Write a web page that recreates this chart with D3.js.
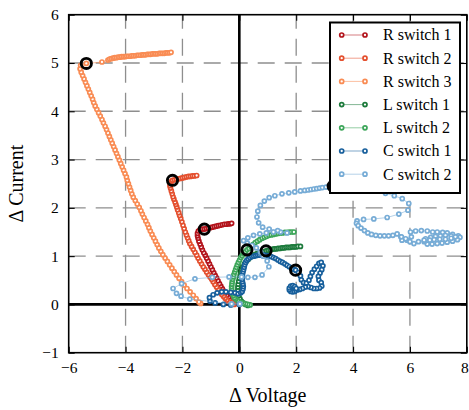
<!DOCTYPE html>
<html>
<head>
<meta charset="utf-8">
<script src="https://cdn.jsdelivr.net/npm/d3@7"></script>
<style>
  body { margin: 0; background: #fff; }
  text { font-family: "Liberation Serif", "Times New Roman", serif; fill: #000; }
</style>
</head>
<body>
<svg id="chart" width="469" height="410"></svg>
<script>
// ---- data: (ΔV, ΔI) trajectories after each switching event ----
const seriesNames = ["R switch 1", "R switch 2", "R switch 3", "L switch 1", "L switch 2", "C switch 1", "C switch 2"];
const xTicks = [-6, -4, -2, 0, 2, 4, 6, 8];
const yTicks = [-1, 0, 1, 2, 3, 4, 5, 6];

const rSwitch1 = [
  [-0.08,0.02],[-0.14,0.04],[-0.2,0.06],[-0.26,0.08],[-0.32,0.11],[-0.38,0.15],[-0.44,0.19],[-0.5,0.23],
  [-0.55,0.28],[-0.6,0.33],[-0.65,0.38],[-0.7,0.43],[-0.75,0.49],[-0.8,0.55],[-0.85,0.6],[-0.9,0.66],
  [-0.95,0.72],[-1.0,0.78],[-1.05,0.84],[-1.1,0.9],[-1.15,0.96],[-1.2,1.02],[-1.25,1.07],[-1.3,1.13],
  [-1.34,1.19],[-1.38,1.25],[-1.42,1.31],[-1.45,1.37],[-1.47,1.42],[-1.47,1.47],[-1.44,1.52],[-1.38,1.55],
  [-1.3,1.56],[-1.23,1.56],[-1.16,1.57],[-1.09,1.58],[-1.02,1.59],[-0.95,1.6],[-0.88,1.61],[-0.81,1.62],
  [-0.74,1.63],[-0.67,1.64],[-0.6,1.65],[-0.53,1.66],[-0.46,1.66],[-0.39,1.67],[-0.33,1.67],[-0.27,1.68]
];
const rSwitch2 = [
  [-0.18,0.0],[-0.25,0.02],[-0.32,0.04],[-0.38,0.06],[-0.44,0.09],[-0.5,0.13],[-0.56,0.17],[-0.62,0.21],
  [-0.68,0.26],[-0.74,0.31],[-0.8,0.36],[-0.86,0.41],[-0.92,0.47],[-0.97,0.52],[-1.03,0.57],[-1.09,0.62],
  [-1.15,0.67],[-1.21,0.73],[-1.27,0.78],[-1.33,0.84],[-1.39,0.9],[-1.45,0.96],[-1.5,1.02],[-1.56,1.08],
  [-1.62,1.14],[-1.68,1.2],[-1.74,1.26],[-1.78,1.32],[-1.82,1.38],[-1.86,1.44],[-1.9,1.5],[-1.94,1.57],
  [-1.98,1.64],[-2.02,1.71],[-2.06,1.78],[-2.1,1.84],[-2.13,1.9],[-2.17,1.96],[-2.2,2.02],[-2.23,2.07],
  [-2.26,2.12],[-2.3,2.18],[-2.33,2.23],[-2.36,2.29],[-2.39,2.35],[-2.42,2.41],[-2.44,2.46],[-2.42,2.51],
  [-2.38,2.55],[-2.35,2.57],[-2.28,2.58],[-2.21,2.59],[-2.14,2.6],[-2.07,2.61],[-2.0,2.62],[-1.93,2.63],
  [-1.86,2.64],[-1.79,2.65],[-1.72,2.65],[-1.65,2.66],[-1.58,2.66],[-1.5,2.67]
];
const rSwitch3 = [
  [-1.36,0.02],[-1.42,0.05],[-1.52,0.12],[-1.62,0.19],[-1.73,0.26],[-1.84,0.33],[-1.94,0.4],[-2.03,0.47],
  [-2.12,0.54],[-2.21,0.61],[-2.29,0.68],[-2.37,0.75],[-2.45,0.82],[-2.53,0.89],[-2.61,0.96],[-2.69,1.03],
  [-2.76,1.1],[-2.83,1.17],[-2.89,1.24],[-2.95,1.31],[-3.01,1.38],[-3.07,1.45],[-3.13,1.52],[-3.18,1.59],
  [-3.23,1.66],[-3.29,1.73],[-3.35,1.8],[-3.41,1.87],[-3.46,1.94],[-3.52,2.01],[-3.59,2.08],[-3.66,2.15],
  [-3.73,2.22],[-3.78,2.29],[-3.82,2.36],[-3.86,2.43],[-3.9,2.5],[-3.94,2.57],[-3.97,2.64],[-4.02,2.71],
  [-4.07,2.78],[-4.12,2.85],[-4.17,2.92],[-4.22,2.99],[-4.27,3.06],[-4.32,3.13],[-4.37,3.2],[-4.42,3.27],
  [-4.47,3.34],[-4.52,3.41],[-4.57,3.48],[-4.62,3.55],[-4.67,3.62],[-4.72,3.69],[-4.78,3.76],[-4.83,3.83],
  [-4.89,3.9],[-4.95,3.97],[-5.01,4.04],[-5.07,4.11],[-5.12,4.18],[-5.16,4.25],[-5.21,4.32],[-5.26,4.39],
  [-5.31,4.46],[-5.36,4.53],[-5.41,4.6],[-5.46,4.67],[-5.51,4.74],[-5.56,4.81],[-5.6,4.88],[-5.58,4.95],
  [-5.38,4.99],[-4.83,5.02],[-4.62,5.06],[-4.56,5.08],[-4.5,5.09],[-4.44,5.1],[-4.38,5.11],[-4.32,5.11],
  [-4.26,5.12],[-4.2,5.12],[-4.14,5.13],[-4.08,5.13],[-4.02,5.13],[-3.96,5.14],[-3.9,5.14],[-3.84,5.14],
  [-3.78,5.15],[-3.72,5.15],[-3.66,5.15],[-3.6,5.16],[-3.54,5.16],[-3.48,5.16],[-3.42,5.17],[-3.36,5.17],
  [-3.3,5.17],[-3.24,5.18],[-3.18,5.18],[-3.12,5.18],[-3.06,5.19],[-3.0,5.19],[-2.94,5.19],[-2.88,5.19],
  [-2.82,5.2],[-2.76,5.2],[-2.7,5.2],[-2.64,5.2],[-2.58,5.21],[-2.52,5.21],[-2.46,5.21],[-2.4,5.22]
];
const lSwitch1 = [
  [0.3,-0.02],[0.22,0.0],[0.14,0.03],[0.07,0.07],[0.02,0.12],[-0.02,0.18],[-0.04,0.24],[-0.05,0.3],
  [-0.05,0.36],[-0.04,0.42],[-0.02,0.48],[0.0,0.54],[0.03,0.6],[0.06,0.66],[0.09,0.72],[0.13,0.78],
  [0.18,0.84],[0.24,0.89],[0.31,0.93],[0.38,0.97],[0.46,1.0],[0.54,1.03],[0.62,1.05],[0.7,1.07],
  [0.78,1.08],[0.85,1.09],[0.94,1.11],[1.01,1.12],[1.08,1.13],[1.15,1.14],[1.22,1.15],[1.29,1.15],
  [1.36,1.16],[1.43,1.16],[1.5,1.17],[1.57,1.17],[1.64,1.18],[1.71,1.18],[1.78,1.18],[1.85,1.19],
  [1.92,1.19],[1.99,1.19],[2.06,1.2],[2.15,1.2]
];
const lSwitch2 = [
  [0.38,-0.01],[0.3,0.0],[0.22,0.01],[0.14,0.02],[0.07,0.04],[0.0,0.06],[-0.06,0.08],[-0.12,0.11],
  [-0.17,0.14],[-0.21,0.18],[-0.24,0.22],[-0.26,0.27],[-0.27,0.32],[-0.27,0.37],[-0.26,0.42],[-0.25,0.47],
  [-0.23,0.52],[-0.21,0.57],[-0.19,0.62],[-0.16,0.67],[-0.13,0.72],[-0.1,0.77],[-0.07,0.82],[-0.03,0.87],
  [0.01,0.92],[0.05,0.97],[0.1,1.01],[0.15,1.05],[0.21,1.09],[0.27,1.13],[0.34,1.16],[0.41,1.2],
  [0.48,1.24],[0.56,1.28],[0.64,1.31],[0.72,1.34],[0.8,1.37],[0.88,1.39],[0.96,1.41],[1.04,1.43],
  [1.12,1.44],[1.2,1.45],[1.28,1.46],[1.36,1.47],[1.44,1.48],[1.52,1.48],[1.6,1.49],[1.68,1.49],
  [1.76,1.5],[1.84,1.5],[1.92,1.5]
];
const cSwitch1 = [
  [0.0,0.0],[-0.3,-0.01],[-0.56,0.0],[-0.85,0.03],[-1.03,0.07],[-1.05,0.14],[-0.92,0.2],[-0.78,0.24],
  [-0.62,0.26],[-0.47,0.26],[-0.3,0.25],[-0.15,0.24],[-0.04,0.22],[0.05,0.24],[0.1,0.27],[0.13,0.32],
  [0.14,0.37],[0.13,0.42],[0.11,0.47],[0.1,0.52],[0.1,0.57],[0.11,0.62],[0.13,0.67],[0.15,0.72],
  [0.17,0.77],[0.19,0.82],[0.22,0.87],[0.26,0.91],[0.31,0.94],[0.37,0.97],[0.44,0.99],[0.51,1.0],
  [0.58,1.01],[0.65,1.02],[0.72,1.02],[0.8,1.02],[0.88,1.02],[0.96,1.01],[1.04,1.0],[1.12,0.99],
  [1.2,0.97],[1.28,0.95],[1.36,0.92],[1.44,0.89],[1.52,0.87],[1.6,0.84],[1.68,0.81],[1.76,0.78],
  [1.84,0.75],[1.91,0.73],[1.98,0.71],[2.08,0.66],[2.15,0.59],[2.18,0.51],[2.26,0.45],[2.36,0.44],
  [2.45,0.5],[2.5,0.58],[2.56,0.66],[2.64,0.73],[2.72,0.79],[2.8,0.85],[2.88,0.87],[2.94,0.8],
  [2.9,0.72],[2.84,0.65],[2.78,0.58],[2.8,0.5],[2.88,0.45],[2.9,0.38],[2.82,0.34],[2.72,0.33],
  [2.62,0.33],[2.52,0.35],[2.42,0.37],[2.32,0.36],[2.22,0.33],[2.12,0.31],[2.03,0.3],[1.95,0.3],
  [1.88,0.29],[1.82,0.31],[1.8,0.35],[1.86,0.37],[1.93,0.36],[1.99,0.32],[1.95,0.27],[1.88,0.26],
  [1.81,0.27],[1.76,0.3],[1.76,0.34],[1.81,0.38],[1.88,0.39],[1.95,0.37],[2.0,0.33]
];
const cSwitch2 = [
  [0.02,0.01],[-0.27,0.01],[-1.74,0.11],[-2.05,0.17],[-2.21,0.23],[-2.33,0.33],[-2.03,0.43],[-1.56,0.53],
  [-0.95,0.56],[-0.36,0.57],[0.08,0.57],[0.3,0.56],[0.55,0.56],[0.8,0.61],[1.04,0.78],[0.98,0.9],
  [0.84,1.0],[0.74,1.09],[0.6,1.17],[0.45,1.22],[0.28,1.27],[0.15,1.32],[0.3,1.38],[0.5,1.43],
  [0.72,1.46],[0.95,1.48],[1.2,1.5],[1.45,1.5],[1.68,1.48],[1.35,1.53],[1.05,1.56],[0.82,1.6],
  [0.68,1.69],[0.62,1.81],[0.65,1.93],[0.74,2.05],[0.88,2.14],[1.05,2.21],[1.25,2.25],[1.5,2.29],
  [1.74,2.31],[1.95,2.33],[2.15,2.35],[2.3,2.36],[2.42,2.37],[2.52,2.38],[2.62,2.39],[2.72,2.4],
  [2.82,2.41],[2.92,2.42],[3.05,2.43],[3.18,2.44],[3.3,2.45],[3.7,2.47],[4.1,2.46],[4.5,2.42],
  [4.85,2.36],[5.14,2.3],[5.45,2.25],[5.73,2.19],[5.96,2.09],[5.93,1.95],[5.61,1.87],[5.2,1.8],
  [4.73,1.77],[4.37,1.76],[4.14,1.73],[4.12,1.68],[4.18,1.63],[4.28,1.58],[4.4,1.53],[4.52,1.48],
  [4.65,1.45],[4.8,1.43],[4.95,1.42],[5.1,1.42],[5.25,1.42],[5.4,1.43],[5.55,1.46],[5.68,1.4],
  [5.72,1.33],[5.9,1.33],[6.05,1.4],[6.02,1.5],[6.2,1.52],[6.4,1.53],[6.61,1.52],[6.8,1.5],
  [6.96,1.5],[7.15,1.49],[7.31,1.48],[7.5,1.45],[7.7,1.42],[7.76,1.39],[7.67,1.34],[7.5,1.31],
  [7.31,1.29],[7.13,1.27],[6.96,1.26],[6.78,1.25],[6.61,1.25],[6.5,1.3],[6.55,1.36],[6.73,1.39],
  [6.9,1.41],[7.07,1.42],[7.25,1.43],[7.45,1.42],[7.6,1.4],[7.45,1.37],[7.25,1.35],[7.05,1.35],
  [6.85,1.34],[6.7,1.33],[6.5,1.33],[6.3,1.3],[6.14,1.26],[6.0,1.3],[5.85,1.36],[5.7,1.4]
];
// operating point at the moment of each switch
const switchPoints = [[-1.23,1.56],[-2.35,2.57],[-5.38,4.99],[0.94,1.11],[0.27,1.13],[1.98,0.71],[3.3,2.45]];

const seriesData = [rSwitch1, rSwitch2, rSwitch3, lSwitch1, lSwitch2, cSwitch1, cSwitch2];
const colors = ["#b3141c", "#e4502f", "#f98c54", "#1c7a3b", "#3da65a", "#175f9c", "#77acd6"];

// ---- layout ----
const svg = d3.select("#chart");
const x = d3.scaleLinear().domain([-6, 8]).range([68.7, 466.8]);
const y = d3.scaleLinear().domain([-1, 6]).range([352.7, 14.7]);
const [x0, x1] = x.range();
const [y0, y1] = y.range();
const markerR = 2.0, markerW = 1.7;

// dashed grid
const grid = svg.append("g").attr("stroke", "#8e8e8e").attr("stroke-width", 1.3).attr("stroke-dasharray", "17,10");
grid.selectAll(".gx").data(xTicks.filter(t => t !== 0 && t !== -6 && t !== 8)).join("line")
  .attr("x1", d => x(d)).attr("x2", d => x(d)).attr("y1", y0).attr("y2", y1);
grid.selectAll(".gy").data(yTicks.filter(t => t !== 0 && t !== -1 && t !== 6)).join("line")
  .attr("y1", d => y(d)).attr("y2", d => y(d)).attr("x1", x0).attr("x2", x1);

// zero lines
svg.append("line").attr("x1", x(0)).attr("x2", x(0)).attr("y1", y0).attr("y2", y1)
  .attr("stroke", "#000").attr("stroke-width", 2.6);
svg.append("line").attr("y1", y(0)).attr("y2", y(0)).attr("x1", x0).attr("x2", x1)
  .attr("stroke", "#000").attr("stroke-width", 2.6);

// axes
const tickLen = 6;
const fmt = d3.format("d");
const axB = svg.append("g").attr("transform", `translate(0,${y0})`)
  .call(d3.axisBottom(x).tickValues(xTicks).tickFormat(fmt).tickSizeInner(-tickLen).tickSizeOuter(0).tickPadding(9.5));
const axL = svg.append("g").attr("transform", `translate(${x0},0)`)
  .call(d3.axisLeft(y).tickValues(yTicks).tickFormat(fmt).tickSizeInner(-tickLen).tickSizeOuter(0).tickPadding(10));
const axT = svg.append("g").attr("transform", `translate(0,${y1})`)
  .call(d3.axisTop(x).tickValues(xTicks).tickFormat("").tickSizeInner(-tickLen).tickSizeOuter(0));
const axR = svg.append("g").attr("transform", `translate(${x1},0)`)
  .call(d3.axisRight(y).tickValues(yTicks).tickFormat("").tickSizeInner(-tickLen).tickSizeOuter(0));
[axB, axL, axT, axR].forEach(a => {
  a.select(".domain").remove();
  a.selectAll(".tick line").attr("stroke", "#000").attr("stroke-width", 1.1);
  a.selectAll(".tick text").attr("font-size", 15.5).attr("font-family", "Liberation Serif, serif");
});
// keep the last x label inside the canvas
axB.selectAll(".tick text").filter(d => d === 8).attr("text-anchor", "end").attr("dx", 1.5);

// trajectories
const line = d3.line().x(d => x(d[0])).y(d => y(d[1]));
seriesData.forEach((pts, i) => {
  const g = svg.append("g");
  g.append("path").attr("d", line(pts)).attr("fill", "none")
    .attr("stroke", colors[i]).attr("stroke-width", 1).attr("stroke-opacity", 0.55);
  g.selectAll("circle").data(pts).join("circle")
    .attr("cx", d => x(d[0])).attr("cy", d => y(d[1])).attr("r", markerR)
    .attr("fill", "#fff").attr("stroke", colors[i]).attr("stroke-width", markerW);
});

// switching instants
svg.append("g").selectAll("circle").data(switchPoints).join("circle")
  .attr("cx", d => x(d[0])).attr("cy", d => y(d[1])).attr("r", 5.1)
  .attr("fill", "none").attr("stroke", "#000").attr("stroke-width", 2.9);

// frame
svg.append("rect").attr("x", x0).attr("y", y1).attr("width", x1 - x0).attr("height", y0 - y1)
  .attr("fill", "none").attr("stroke", "#000").attr("stroke-width", 1.6);

// axis titles
svg.append("text").attr("x", (x0 + x1) / 2).attr("y", 402).attr("text-anchor", "middle")
  .attr("font-size", 20).text("Δ Voltage");
svg.append("text").attr("transform", `translate(23,${(y0 + y1) / 2}) rotate(-90)`)
  .attr("text-anchor", "middle").attr("font-size", 20).text("Δ Current");

// legend
const leg = svg.append("g");
leg.append("rect").attr("x", 330).attr("y", 22.5).attr("width", 130).attr("height", 170.5)
  .attr("fill", "#fff").attr("stroke", "#000").attr("stroke-width", 2);
seriesNames.forEach((name, i) => {
  const cy = 35 + i * 23.2;
  leg.append("line").attr("x1", 341.7).attr("x2", 365).attr("y1", cy).attr("y2", cy)
    .attr("stroke", colors[i]).attr("stroke-width", 1).attr("stroke-opacity", 0.55);
  [341.7, 365].forEach(cx => leg.append("circle").attr("cx", cx).attr("cy", cy).attr("r", markerR)
    .attr("fill", "#fff").attr("stroke", colors[i]).attr("stroke-width", markerW));
  leg.append("text").attr("x", 383).attr("y", cy + 5.3).attr("font-size", 16).text(name);
});
</script>
</body>
</html>
